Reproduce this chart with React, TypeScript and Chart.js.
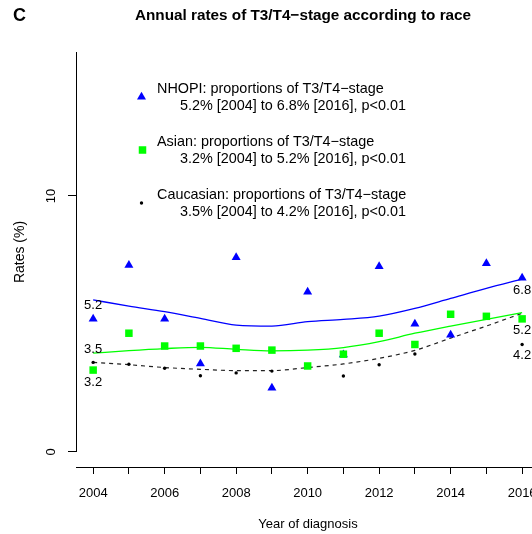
import React, { useEffect, useRef } from "react";
import { Chart, registerables } from "chart.js";

Chart.register(...registerables);

const FONT = "'Liberation Sans', Arial, Helvetica, sans-serif";

const years = [2004, 2005, 2006, 2007, 2008, 2009, 2010, 2011, 2012, 2013, 2014, 2015, 2016];

const nhopiRates = [5.2, 7.3, 5.2, 3.45, 7.6, 2.5, 6.25, 3.8, 7.25, 5.0, 4.57, 7.37, 6.8];
const asianRates = [3.2, 4.64, 4.14, 4.14, 4.05, 3.98, 3.36, 3.82, 4.64, 4.2, 5.38, 5.3, 5.2];
const caucasianRates = [3.5, 3.43, 3.27, 2.98, 3.09, 3.16, 3.35, 2.97, 3.41, 3.83, 4.55, 5.25, 4.2];

const nhopiTrend = [5.94, 5.7, 5.48, 5.22, 4.96, 4.92, 5.09, 5.18, 5.31, 5.61, 6.0, 6.39, 6.75];
const asianTrend = [3.86, 3.96, 4.04, 4.09, 4.01, 3.95, 3.98, 4.08, 4.31, 4.64, 4.92, 5.18, 5.44];
const caucasianTrend = [3.5, 3.41, 3.3, 3.23, 3.18, 3.18, 3.3, 3.44, 3.66, 3.97, 4.45, 4.92, 5.42];

const yTickValues = [0, 10];

const panelLetter = "C";
const chartTitle = "Annual rates of T3/T4\u2212stage according to race";
const xTitle = "Year of diagnosis";
const yTitle = "Rates (%)";

const legendTitles = [
  "NHOPI: proportions of T3/T4\u2212stage",
  "Asian: proportions of T3/T4\u2212stage",
  "Caucasian: proportions of T3/T4\u2212stage",
];
const legendDetails = [
  "5.2% [2004] to 6.8% [2016], p<0.01",
  "3.2% [2004] to 5.2% [2016], p<0.01",
  "3.5% [2004] to 4.2% [2016], p<0.01",
];

const BLUE = "#0000FF";
const GREEN = "#00FF00";
const BLACK = "#000000";

const toPoints = (vals: number[]) => vals.map((v, i) => ({ x: years[i], y: v }));

function drawTriangle(ctx: CanvasRenderingContext2D, x: number, y: number, r: number) {
  ctx.beginPath();
  for (let k = 0; k < 3; k++) {
    const a = (k * 2 * Math.PI) / 3;
    const px = x + Math.sin(a) * r;
    const py = y - Math.cos(a) * r;
    if (k === 0) ctx.moveTo(px, py);
    else ctx.lineTo(px, py);
  }
  ctx.closePath();
  ctx.fill();
}

const overlayPlugin = {
  id: "overlay",
  afterDraw(chart: any) {
    const ctx: CanvasRenderingContext2D = chart.ctx;
    const xs = chart.scales.x;
    const ys = chart.scales.y;
    const area = chart.chartArea;
    ctx.save();

    // y axis line from 0 to top
    ctx.strokeStyle = BLACK;
    ctx.lineWidth = 1;
    ctx.beginPath();
    const ax = Math.round(area.left) + 0.5;
    ctx.moveTo(ax, ys.getPixelForValue(0));
    ctx.lineTo(ax, area.top);
    ctx.stroke();

    ctx.fillStyle = BLACK;
    ctx.textBaseline = "middle";

    // panel letter
    ctx.font = `bold 18px ${FONT}`;
    ctx.textAlign = "left";
    ctx.fillText(panelLetter, 13, 16);

    // title
    ctx.font = `bold 15.3px ${FONT}`;
    ctx.textAlign = "center";
    ctx.fillText(chartTitle, 303, 16);

    // y title
    ctx.font = `14px ${FONT}`;
    ctx.save();
    ctx.translate(20, 252);
    ctx.rotate(-Math.PI / 2);
    ctx.textAlign = "center";
    ctx.fillText(yTitle, 0, 0);
    ctx.restore();

    // legend
    const legendColors = [BLUE, GREEN, BLACK];
    for (let i = 0; i < 3; i++) {
      const cy = 97 + i * 53;
      ctx.fillStyle = legendColors[i];
      if (i === 0) drawTriangle(ctx, 141.5, cy, 5.2);
      else if (i === 1) ctx.fillRect(142.5 - 3.75, cy - 3.75, 7.5, 7.5);
      else {
        ctx.beginPath();
        ctx.arc(141.5, cy, 1.7, 0, Math.PI * 2);
        ctx.fill();
      }
      ctx.fillStyle = BLACK;
      ctx.font = `14.4px ${FONT}`;
      ctx.textAlign = "left";
      ctx.fillText(legendTitles[i], 157, cy - 8);
      ctx.fillText(legendDetails[i], 180, cy + 9);
    }

    // end annotations
    ctx.font = `13px ${FONT}`;
    ctx.textAlign = "center";
    const last = years.length - 1;
    const x0 = xs.getPixelForValue(years[0]);
    const x1 = xs.getPixelForValue(years[last]);
    const ann = [
      { x: x0, v: nhopiRates[0], dy: -13 },
      { x: x0, v: caucasianRates[0], dy: -13 },
      { x: x0, v: asianRates[0], dy: 12 },
      { x: x1, v: nhopiRates[last], dy: 13 },
      { x: x1, v: asianRates[last], dy: 12 },
      { x: x1, v: caucasianRates[last], dy: 11 },
    ];
    for (const a of ann) {
      ctx.fillText(a.v.toFixed(1), a.x, ys.getPixelForValue(a.v) + a.dy);
    }
    ctx.restore();
  },
};

export default function App() {
  const canvasRef = useRef<HTMLCanvasElement | null>(null);

  useEffect(() => {
    const canvas = canvasRef.current;
    if (!canvas) return;
    Chart.defaults.font.family = FONT;
    Chart.defaults.color = BLACK;

    const chart = new Chart(canvas, {
      type: "line",
      data: {
        datasets: [
          {
            label: "Asian",
            data: toPoints(asianRates),
            showLine: false,
            pointStyle: "rect",
            pointRadius: 5.3,
            pointBackgroundColor: GREEN,
            pointBorderWidth: 0,
            borderColor: GREEN,
            backgroundColor: GREEN,
          },
          {
            label: "NHOPI",
            data: toPoints(nhopiRates),
            showLine: false,
            pointStyle: "triangle",
            pointRadius: 5.2,
            pointBackgroundColor: BLUE,
            pointBorderWidth: 0,
            borderColor: BLUE,
            backgroundColor: BLUE,
          },
          {
            label: "Caucasian",
            data: toPoints(caucasianRates),
            showLine: false,
            pointStyle: "circle",
            pointRadius: 1.7,
            pointBackgroundColor: BLACK,
            pointBorderWidth: 0,
            borderColor: BLACK,
            backgroundColor: BLACK,
          },
          {
            label: "NHOPI trend",
            data: toPoints(nhopiTrend),
            borderColor: BLUE,
            borderWidth: 1.3,
            pointRadius: 0,
            cubicInterpolationMode: "monotone",
            fill: false,
          },
          {
            label: "Asian trend",
            data: toPoints(asianTrend),
            borderColor: GREEN,
            borderWidth: 1.3,
            pointRadius: 0,
            cubicInterpolationMode: "monotone",
            fill: false,
          },
          {
            label: "Caucasian trend",
            data: toPoints(caucasianTrend),
            borderColor: "#222222",
            borderWidth: 1.2,
            borderDash: [4, 4],
            pointRadius: 0,
            cubicInterpolationMode: "monotone",
            fill: false,
          },
        ],
      },
      options: {
        responsive: false,
        animation: false,
        layout: { padding: { top: 52, right: 20, left: 0, bottom: 0 } },
        plugins: {
          legend: { display: false },
          tooltip: { enabled: false },
          title: { display: false },
        },
        scales: {
          x: {
            type: "linear",
            min: 2003.52,
            max: 2016.5,
            afterFit: (scale: any) => {
              scale.height = 67;
            },
            ticks: {
              stepSize: 1,
              includeBounds: false,
              autoSkip: false,
              maxRotation: 0,
              minRotation: 0,
              padding: 12,
              color: BLACK,
              font: { size: 13, family: FONT },
              callback: (v: any) => (Number(v) % 2 === 0 ? String(v) : ""),
            },
            grid: {
              drawOnChartArea: false,
              drawTicks: true,
              tickLength: 7,
              tickColor: BLACK,
              color: BLACK,
            },
            border: { display: true, color: BLACK, width: 1 },
            title: {
              display: true,
              text: xTitle,
              color: BLACK,
              font: { size: 13, family: FONT },
              padding: { top: 10, bottom: 2 },
            },
          },
          y: {
            type: "linear",
            min: -0.586,
            max: 15.625,
            afterFit: (scale: any) => {
              scale.width = 76;
            },
            afterBuildTicks: (scale: any) => {
              scale.ticks = yTickValues.map((v) => ({ value: v }));
            },
            ticks: {
              minRotation: 90,
              maxRotation: 90,
              crossAlign: "center",
              padding: 9,
              color: BLACK,
              font: { size: 13, family: FONT },
            },
            grid: {
              drawOnChartArea: false,
              drawTicks: true,
              tickLength: 8,
              tickColor: BLACK,
              color: BLACK,
            },
            border: { display: false },
            title: { display: false },
          },
        },
      },
      plugins: [overlayPlugin],
    } as any);

    return () => chart.destroy();
  }, []);

  return (
    <div
      style={{
        position: "absolute",
        left: 0,
        top: 0,
        width: 532,
        height: 534,
        overflow: "hidden",
        background: "#ffffff",
      }}
    >
      <canvas ref={canvasRef} width={560} height={534} style={{ display: "block" }} />
    </div>
  );
}
